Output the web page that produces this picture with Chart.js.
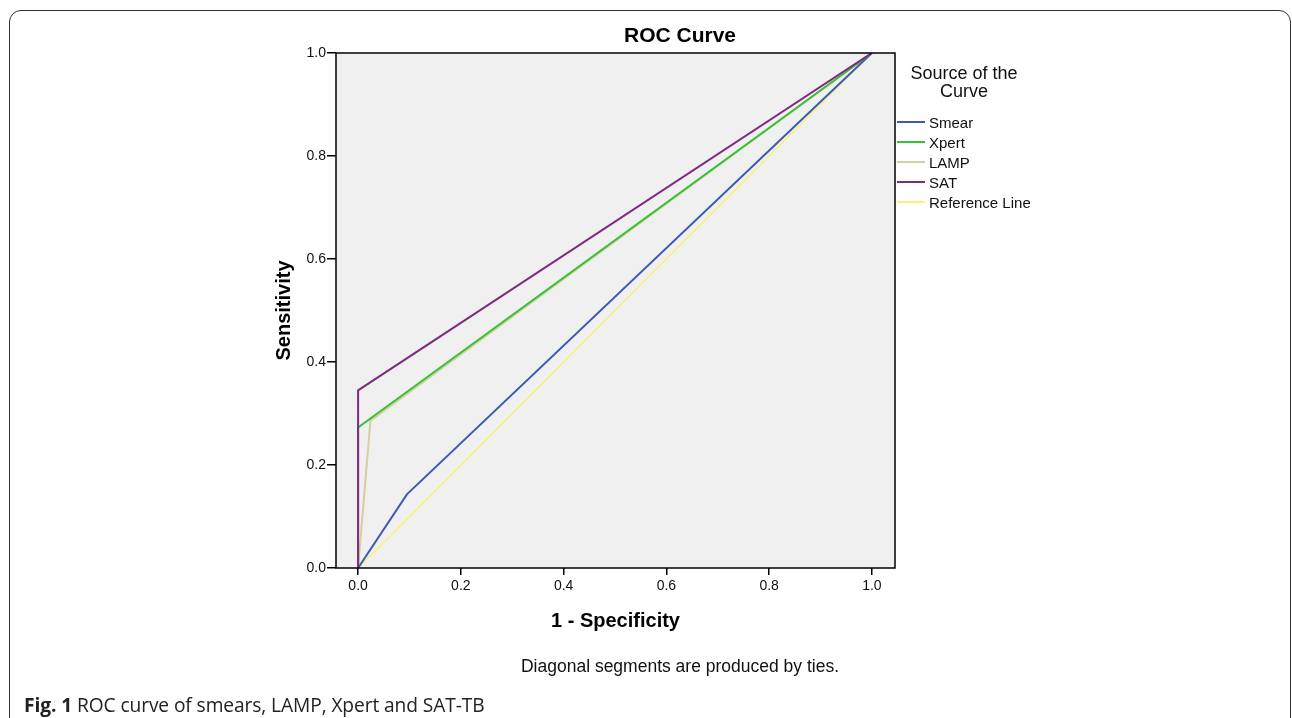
<!DOCTYPE html>
<html>
<head>
<meta charset="utf-8">
<script src="https://cdn.jsdelivr.net/npm/chart.js@4.4.1/dist/chart.umd.min.js"></script>
<style>
  html, body { margin: 0; padding: 0; background: #fff; }
  body { width: 1292px; height: 718px; position: relative; overflow: hidden; font-family: "Liberation Sans", Arial, sans-serif; }
  #frame { position: absolute; left: 9px; top: 10px; width: 1280px; height: 740px; border: 1.5px solid #333; border-radius: 12px; }
  #wrap { position: absolute; left: 0; top: 0; width: 1292px; height: 718px; }
  #title { position: absolute; left: 530px; width: 300px; top: 23px; text-align: center; font-size: 21px; font-weight: bold; color: #000; }
  #legend { position: absolute; left: 897px; top: 63px; width: 170px; font-size: 15px; color: #111; }
  #legend .head { position: relative; left: 6px; width: 122px; text-align: center; font-size: 18px; line-height: 18px; margin-top: 1px; margin-bottom: 12px; }
  #legend .item { height: 20px; display: flex; align-items: center; }
  #legend .sw { width: 28px; height: 2px; margin-right: 4px; }
  #note { position: absolute; left: 380px; width: 600px; top: 656px; text-align: center; font-size: 17.5px; color: #111; }
  #caption { position: absolute; left: 24px; top: 691px; font-family: "Open Sans", "Noto Sans", sans-serif; font-size: 19.2px; color: #222; letter-spacing: -0.1px; }
  #caption b { font-weight: 700; }
</style>
</head>
<body>
<div id="frame"></div>
<div id="wrap"><canvas id="roc" width="1292" height="718"></canvas></div>
<div id="title">ROC Curve</div>
<div id="legend"></div>
<div id="note">Diagonal segments are produced by ties.</div>
<div id="caption"><b>Fig. 1</b> ROC curve of smears, LAMP, Xpert and SAT-TB</div>
<script>
// ROC points (1 - specificity, sensitivity)
const seriesNames = ["Smear", "Xpert", "LAMP", "SAT", "Reference Line"];
const smearX = [0, 0.095, 1];
const smearY = [0, 0.143, 1];
const xpertX = [0, 0, 1];
const xpertY = [0, 0.273, 1];
const lampX = [0, 0.024, 1];
const lampY = [0, 0.286, 1];
const satX = [0, 0, 1];
const satY = [0, 0.345, 1];
const refX = [0, 1];
const refY = [0, 1];
const tickValues = [0, 0.2, 0.4, 0.6, 0.8, 1.0];

const colors = ["#3d5ab5", "#36c236", "#d6cf9e", "#7e2a80", "#f6f27a"];
const drawOrder = [2, 1, 3, 0, 4];  // lower = on top

const toPts = (xs, ys) => xs.map((x, i) => ({ x, y: ys[i] }));
const allPts = [
  toPts(smearX, smearY), toPts(xpertX, xpertY), toPts(lampX, lampY),
  toPts(satX, satY), toPts(refX, refY)
];

const plotBox = {
  id: "plotBox",
  beforeDatasetsDraw(chart) {
    const { ctx, chartArea: a } = chart;
    ctx.save();
    ctx.fillStyle = "#f0f0f0";
    ctx.fillRect(a.left, a.top, a.right - a.left, a.bottom - a.top);
    ctx.restore();
  },
  afterDatasetsDraw(chart) {
    const { ctx, chartArea: a } = chart;
    ctx.save();
    ctx.strokeStyle = "#000";
    ctx.lineWidth = 1.5;
    ctx.strokeRect(a.left, a.top, a.right - a.left, a.bottom - a.top);
    ctx.restore();
  }
};

const fixTicks = s => { s.ticks = tickValues.map(v => ({ value: v })); };

new Chart(document.getElementById("roc"), {
  type: "scatter",
  data: {
    datasets: seriesNames.map((name, i) => ({
      label: name,
      data: allPts[i],
      showLine: true,
      borderColor: colors[i],
      backgroundColor: colors[i],
      borderWidth: i === 4 ? 1.5 : 2,
      pointRadius: 0,
      tension: 0,
      order: drawOrder[i],
    })),
  },
  options: {
    responsive: false,
    animation: false,
    layout: { padding: { left: 272, right: 397, top: 53, bottom: 85 } },
    scales: {
      x: {
        type: "linear",
        min: -0.043, max: 1.045,
        afterBuildTicks: fixTicks,
        afterFit: s => { s.height = 65; },
        grid: { drawOnChartArea: false, tickLength: 7, color: "#000", tickColor: "#000", lineWidth: 1.5 },
        border: { display: false },
        ticks: { color: "#111", font: { size: 14, family: "Liberation Sans" }, padding: 3, maxRotation: 0,
                 callback: v => Number(v).toFixed(1) },
        title: { display: true, text: "1 - Specificity", color: "#000",
                 font: { size: 20, weight: "bold", family: "Liberation Sans" }, padding: 0 },
      },
      y: {
        type: "linear",
        min: 0, max: 1,
        afterBuildTicks: fixTicks,
        afterFit: s => { s.width = 64; },
        grid: { drawOnChartArea: false, tickLength: 9, color: "#000", tickColor: "#000", lineWidth: 1.5 },
        border: { display: false },
        ticks: { color: "#111", font: { size: 14, family: "Liberation Sans" }, padding: 1,
                 callback: v => Number(v).toFixed(1) },
        title: { display: true, text: "Sensitivity", color: "#000",
                 font: { size: 20, weight: "bold", family: "Liberation Sans" }, padding: 0 },
      },
    },
    plugins: {
      legend: { display: false },
      tooltip: { enabled: false },
      title: { display: false },
    },
  },
  plugins: [plotBox],
});

// legend built from the same series arrays
const legend = document.getElementById("legend");
legend.innerHTML = '<div class="head">Source of the<br>Curve</div>' +
  seriesNames.map((n, i) =>
    `<div class="item"><span class="sw" style="background:${colors[i]}"></span>${n}</div>`).join("");
</script>
</body>
</html>
